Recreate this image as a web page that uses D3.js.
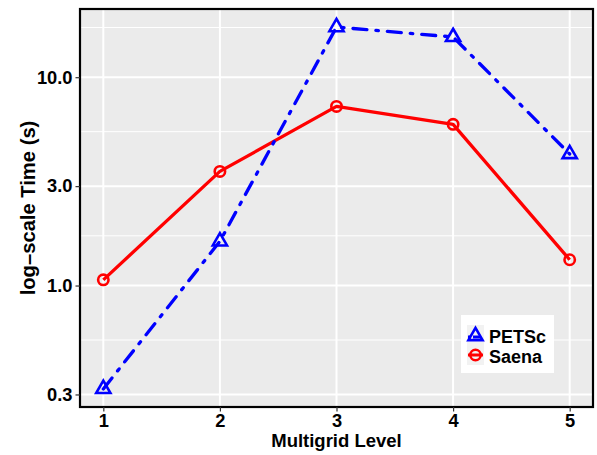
<!DOCTYPE html>
<html><head><meta charset="utf-8">
<script src="https://cdn.jsdelivr.net/npm/d3@7"></script>
<style>body{margin:0;background:#fff}svg{display:block}text{font-family:"Liberation Sans",Arial,sans-serif;font-weight:bold;fill:#000}</style>
</head><body>
<svg id="c" width="597" height="455"></svg>
<script>
const levels = [1, 2, 3, 4, 5];
const petsc = [0.319, 1.63, 17.4, 15.6, 4.28];
const saena = [1.065, 3.53, 7.24, 5.94, 1.33];
const yTicks = [0.3, 1, 3, 10];
const seriesNames = ["PETSc", "Saena"];

const svg = d3.select("#c");
const L = 80, R = 593, T = 9, B = 407;

const x = d3.scaleLinear().domain([0.8, 5.2]).range([L, R]);
const all = petsc.concat(saena);
const lmin = Math.log10(d3.min(all)), lmax = Math.log10(d3.max(all));
const pad = (lmax - lmin) * 0.05;
const y = d3.scaleLog().domain([Math.pow(10, lmin - pad), Math.pow(10, lmax + pad)]).range([B, T]);

// panel
svg.append("rect").attr("x", L).attr("y", T).attr("width", R - L).attr("height", B - T).attr("fill", "#EBEBEB");

// minor grid (log midpoints)
const minorY = [];
const tks = [0.1, 0.3, 1, 3, 10, 30];
for (let i = 0; i < tks.length - 1; i++) minorY.push(Math.sqrt(tks[i] * tks[i + 1]));
const g = svg.append("g");
g.selectAll(".my").data(minorY.filter(v => y(v) > T && y(v) < B)).join("line")
  .attr("x1", L).attr("x2", R).attr("y1", d => y(d)).attr("y2", d => y(d))
  .attr("stroke", "#fff").attr("stroke-width", 1);
g.selectAll(".Y").data(yTicks).join("line")
  .attr("x1", L).attr("x2", R).attr("y1", d => y(d)).attr("y2", d => y(d))
  .attr("stroke", "#fff").attr("stroke-width", 2);
g.selectAll(".X").data(levels).join("line")
  .attr("y1", T).attr("y2", B).attr("x1", d => x(d)).attr("x2", d => x(d))
  .attr("stroke", "#fff").attr("stroke-width", 2);

// lines
const line = d3.line().x((d, i) => x(levels[i])).y(d => y(d));
svg.append("path").datum(saena).attr("d", line).attr("fill", "none")
  .attr("stroke", "#FF0000").attr("stroke-width", 3.3).attr("stroke-linejoin", "round");
svg.append("path").datum(petsc).attr("d", line).attr("fill", "none")
  .attr("stroke", "#0000FF").attr("stroke-width", 3.3).attr("stroke-linecap", "round")
  .attr("stroke-dasharray", "14,9,2.5,9");

const tri = r => `M0,${-r}L${r * 0.866},${r / 2}L${-r * 0.866},${r / 2}Z`;
svg.selectAll(".tp").data(petsc).join("path")
  .attr("transform", (d, i) => `translate(${x(levels[i])},${y(d)})`)
  .attr("d", tri(8.2)).attr("fill", "none").attr("stroke", "#0000FF").attr("stroke-width", 2.6);
svg.selectAll(".cp").data(saena).join("circle")
  .attr("cx", (d, i) => x(levels[i])).attr("cy", d => y(d)).attr("r", 5.2)
  .attr("fill", "none").attr("stroke", "#FF0000").attr("stroke-width", 2.6);

// border
svg.append("rect").attr("x", L).attr("y", T).attr("width", R - L).attr("height", B - T)
  .attr("fill", "none").attr("stroke", "#000").attr("stroke-width", 2.2);

// axes
const ya = svg.append("g").attr("transform", `translate(${L},0)`)
  .call(d3.axisLeft(y).tickValues(yTicks).tickFormat(d3.format(".1f")).tickSize(4.5).tickPadding(3));
const xa = svg.append("g").attr("transform", `translate(0,${B})`)
  .call(d3.axisBottom(x).tickValues(levels).tickFormat(d3.format("d")).tickSize(4.5).tickPadding(3));
[ya, xa].forEach(a => {
  a.select(".domain").remove();
  a.selectAll(".tick line").attr("stroke", "#333").attr("stroke-width", 1.2);
  a.selectAll("text").attr("font-size", 18.3).attr("font-family", "Liberation Sans, Arial, sans-serif")
    .attr("font-weight", "bold").attr("fill", "#000");
});

svg.append("text").attr("x", (L + R) / 2).attr("y", 447).attr("text-anchor", "middle")
  .attr("font-size", 18.5).text("Multigrid Level");
svg.append("text").attr("transform", `translate(34.5,${(T + B) / 2}) rotate(-90)`)
  .attr("text-anchor", "middle").attr("font-size", 20.2).text("log\u2013scale Time (s)");

// legend
const lg = svg.append("g");
lg.append("rect").attr("x", 461).attr("y", 315).attr("width", 93).attr("height", 58).attr("fill", "#fff");
const keyY = [335, 355];
lg.selectAll(".k").data(seriesNames).join("rect")
  .attr("x", 467).attr("y", (d, i) => keyY[i] - 10).attr("width", 17).attr("height", 20).attr("fill", "#F2F2F2");
lg.append("line").attr("x1", 468).attr("x2", 483).attr("y1", keyY[0] + 2).attr("y2", keyY[0] + 2)
  .attr("stroke", "#0000FF").attr("stroke-width", 3).attr("stroke-dasharray", "3,2,8,2");
lg.append("path").attr("transform", `translate(475.5,${keyY[0] + 1})`).attr("d", tri(8.2))
  .attr("fill", "none").attr("stroke", "#0000FF").attr("stroke-width", 2.6);
lg.append("line").attr("x1", 468).attr("x2", 483).attr("y1", keyY[1]).attr("y2", keyY[1])
  .attr("stroke", "#FF0000").attr("stroke-width", 3);
lg.append("circle").attr("cx", 475.5).attr("cy", keyY[1]).attr("r", 5.2)
  .attr("fill", "none").attr("stroke", "#FF0000").attr("stroke-width", 2.6);
lg.selectAll(".lt").data(seriesNames).join("text")
  .attr("x", 489).attr("y", (d, i) => keyY[i] + 8).attr("font-size", 18).text(d => d);
</script>
</body></html>
